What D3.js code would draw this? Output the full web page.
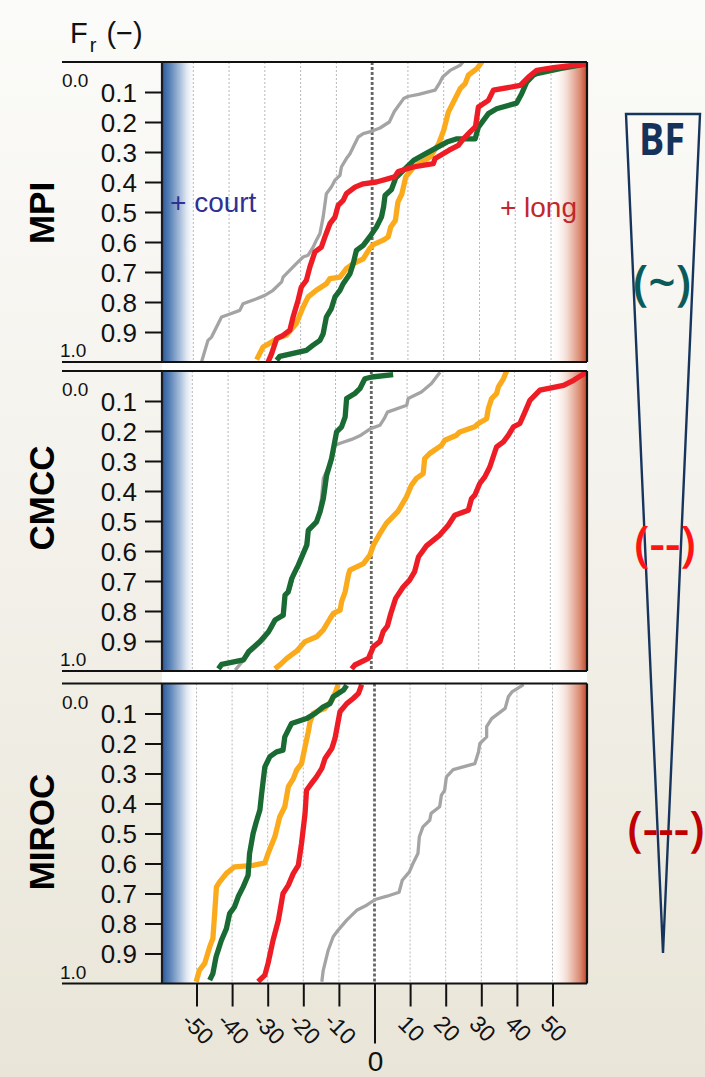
<!DOCTYPE html>
<html>
<head>
<meta charset="utf-8">
<script src="https://cdn.jsdelivr.net/npm/d3@7"></script>
<style>
  html, body { margin: 0; padding: 0; background: #f4f2ec; }
  svg { display: block; }
</style>
</head>
<body>
<svg id="chart" width="705" height="1077"></svg>
<script>
// ---- data -------------------------------------------------------------
const models = ["MPI", "CMCC", "MIROC"];
const xTicks = [-50, -40, -30, -20, -10, 0, 10, 20, 30, 40, 50];
const yTicks = [0.1, 0.2, 0.3, 0.4, 0.5, 0.6, 0.7, 0.8, 0.9];
const seriesNames = ["gray", "orange", "green", "red"];

// each curve: [change (%), F_r]
const mpiGray = [[-47.7,1.0],[-45.9,0.928],[-44.9,0.917],[-43.5,0.883],[-42.1,0.85],[-40.7,0.844],[-37,0.828],[-36.1,0.806],[-32.3,0.789],[-30,0.778],[-27.7,0.761],[-25.3,0.733],[-24.9,0.717],[-21.2,0.672],[-19.3,0.65],[-17.9,0.644],[-16.5,0.617],[-15.6,0.594],[-14.6,0.572],[-13.7,0.517],[-12.8,0.439],[-11.4,0.417],[-10.4,0.394],[-9.0,0.378],[-8.6,0.35],[-7.2,0.322],[-6.2,0.306],[-4.8,0.272],[-3.9,0.25],[-2.5,0.239],[-0.2,0.231],[2.2,0.22],[4.8,0.2],[6.2,0.165],[8.8,0.122],[10,0.115],[13,0.108],[17.6,0.094],[19,0.067],[19.7,0.05],[21.8,0.028],[24.6,0.011],[25.4,0]];
const mpiOrange = [[-32.3,0.992],[-30.5,0.95],[-28.6,0.937],[-25.8,0.917],[-24,0.911],[-21.2,0.872],[-19.3,0.817],[-17.9,0.783],[-15.6,0.761],[-12.8,0.739],[-11.8,0.722],[-9,0.717],[-7.2,0.689],[-5.3,0.672],[-2.5,0.656],[-0.7,0.622],[0.3,0.609],[3.1,0.594],[4.5,0.583],[5.2,0.55],[6.5,0.528],[7.2,0.467],[8.3,0.44],[9.4,0.383],[11.6,0.35],[16.2,0.317],[18.6,0.272],[20,0.228],[21.3,0.167],[24.6,0.089],[26,0.072],[26.9,0.044],[29.3,0.022],[30.7,0.0]];
const mpiGreen = [[-26.7,0.994],[-25.8,0.981],[-18.4,0.961],[-16.5,0.944],[-14.6,0.928],[-13.7,0.906],[-12.8,0.85],[-11.4,0.822],[-10.4,0.783],[-9,0.761],[-8.1,0.739],[-6.2,0.706],[-5.3,0.672],[-4.4,0.628],[-2.5,0.611],[-0.7,0.583],[1.2,0.55],[2.6,0.517],[3.2,0.483],[3.6,0.445],[5.4,0.425],[6.6,0.386],[9,0.358],[11.6,0.328],[15.5,0.302],[20.9,0.267],[23.7,0.256],[28.8,0.256],[29.7,0.217],[32.5,0.172],[34.8,0.156],[40.4,0.137],[41.8,0.106],[43.2,0.067],[45.1,0.044],[46,0.039],[52.5,0.022],[60,0.006]];
const mpiRed = [[-29.1,1.0],[-28.1,0.972],[-26.7,0.922],[-24.9,0.911],[-23,0.894],[-22.1,0.85],[-20.7,0.794],[-19.8,0.75],[-18.4,0.728],[-17.4,0.683],[-16,0.633],[-14.2,0.617],[-13.2,0.583],[-11.8,0.539],[-10.4,0.517],[-9.5,0.478],[-8.1,0.461],[-7.2,0.439],[-4.8,0.417],[-2.5,0.406],[1.2,0.4],[6.3,0.383],[7.3,0.365],[11.5,0.35],[17.1,0.339],[17.6,0.322],[21.5,0.294],[24.1,0.278],[25.5,0.256],[27.4,0.233],[28.9,0.215],[29.7,0.15],[32.5,0.128],[33.9,0.094],[41.4,0.078],[42.3,0.067],[43.7,0.05],[46,0.028],[50.7,0.019],[60,0.006]];

const cmccGray = [[-38,0.997],[-35.3,0.958],[-33.9,0.938],[-30.1,0.897],[-27.8,0.858],[-26.4,0.825],[-24.6,0.808],[-24.1,0.747],[-22.7,0.725],[-21.8,0.686],[-20.4,0.647],[-19.4,0.614],[-18.2,0.575],[-17.6,0.525],[-15.5,0.503],[-14.5,0.469],[-13.9,0.425],[-13.4,0.358],[-11.1,0.297],[-10.1,0.247],[-8.3,0.239],[-5.5,0.228],[-3.2,0.216],[-0.2,0.192],[2.4,0.181],[3.6,0.159],[4.5,0.137],[9.9,0.114],[10.3,0.092],[14,0.07],[16.8,0.042],[19.2,0.004]];
const cmccOrange = [[-26.9,0.993],[-25,0.974],[-23.6,0.958],[-20.8,0.933],[-18.5,0.902],[-15.3,0.886],[-13.4,0.863],[-11.5,0.825],[-10.6,0.808],[-8.7,0.797],[-8.3,0.769],[-7.3,0.736],[-6.4,0.68],[-6,0.664],[-2.2,0.642],[-0.4,0.614],[0.6,0.58],[2.4,0.542],[4.2,0.508],[7.5,0.467],[9.8,0.42],[11.2,0.381],[12.6,0.358],[14.5,0.342],[14.9,0.292],[16.3,0.275],[19.6,0.248],[20.5,0.231],[23.8,0.214],[24.7,0.203],[28.9,0.186],[29.9,0.175],[32.2,0.159],[32.7,0.125],[33.6,0.092],[35,0.075],[35.5,0.053],[36.9,0.026],[37.8,0.0]];
const cmccGreen = [[-42.7,0.993],[-41.8,0.978],[-35.7,0.963],[-34.3,0.936],[-31.1,0.902],[-28.7,0.869],[-26.9,0.83],[-24.6,0.814],[-24.1,0.747],[-23.2,0.736],[-22.2,0.691],[-21.3,0.669],[-20.4,0.647],[-18,0.58],[-17.6,0.531],[-15.3,0.503],[-14.3,0.469],[-13.4,0.425],[-13,0.392],[-12.5,0.348],[-11.1,0.292],[-9.7,0.203],[-8.3,0.186],[-7.3,0.153],[-6.9,0.092],[-4.6,0.075],[-3.2,0.059],[-1.8,0.026],[0.1,0.02],[6.1,0.012]];
const cmccRed = [[-5.5,0.993],[-4.6,0.98],[-0.8,0.958],[0.6,0.919],[2.4,0.902],[3.3,0.869],[4.5,0.85],[5.4,0.81],[6.8,0.758],[8.9,0.72],[10.7,0.697],[12.1,0.669],[13.2,0.619],[15.4,0.583],[19.1,0.547],[21.5,0.514],[23.3,0.481],[27.1,0.464],[28,0.425],[28.9,0.414],[30.3,0.375],[31.7,0.353],[33.1,0.32],[34.5,0.27],[35,0.253],[36.9,0.236],[38.3,0.214],[39.7,0.186],[41.5,0.175],[42.9,0.137],[44.3,0.098],[47.1,0.064],[49.9,0.057],[53.7,0.048],[56.5,0.031],[60,0.005]];

const mirocGray = [[-14.8,0.994],[-14.4,0.956],[-13,0.889],[-11.6,0.844],[-10.2,0.822],[-7.8,0.789],[-5,0.756],[-2.2,0.739],[0.2,0.72],[3.5,0.709],[6.9,0.696],[7.8,0.656],[9.8,0.628],[10.8,0.6],[12.2,0.567],[12.6,0.511],[13.6,0.478],[15.5,0.456],[15.9,0.433],[18.3,0.411],[18.8,0.372],[19.7,0.356],[20.2,0.311],[22.1,0.287],[28.2,0.267],[29.2,0.228],[29.6,0.2],[31.5,0.178],[31.5,0.144],[32.9,0.117],[36.7,0.083],[37.6,0.044],[38.6,0.028],[41.9,0.004]];
const mirocOrange = [[-50.1,0.994],[-49.2,0.956],[-47.7,0.933],[-46.3,0.878],[-45.4,0.85],[-44.9,0.767],[-44.4,0.678],[-43.5,0.661],[-41.6,0.633],[-39.3,0.611],[-34.1,0.606],[-30.8,0.598],[-29.9,0.567],[-28,0.511],[-26.6,0.444],[-25.2,0.411],[-24.2,0.344],[-22.8,0.317],[-21.9,0.289],[-20.5,0.267],[-19.5,0.211],[-18.6,0.161],[-18.1,0.128],[-17.2,0.1],[-15.3,0.089],[-13.9,0.083],[-12,0.056],[-11.1,0.033],[-10.2,0.004]];
const mirocGreen = [[-46.3,0.989],[-45.4,0.967],[-44.5,0.911],[-43,0.856],[-41.6,0.817],[-40.7,0.767],[-39.3,0.744],[-38.3,0.711],[-36.9,0.678],[-35.5,0.639],[-35.1,0.567],[-34.1,0.5],[-33.2,0.461],[-32.2,0.422],[-31.7,0.367],[-30.8,0.278],[-29.4,0.244],[-27.5,0.228],[-25.7,0.222],[-25.2,0.178],[-23.3,0.133],[-19.1,0.117],[-16.7,0.1],[-14.4,0.078],[-12.5,0.067],[-11.6,0.044],[-8.7,0.022],[-7.8,0.006]];
const mirocRed = [[-32.7,0.994],[-30.8,0.972],[-29.9,0.933],[-28.5,0.856],[-27,0.789],[-25.7,0.7],[-24.2,0.672],[-22.8,0.633],[-21.4,0.606],[-20.5,0.533],[-19.5,0.433],[-19.1,0.356],[-17.7,0.333],[-16.3,0.311],[-14.8,0.283],[-13.9,0.25],[-12,0.217],[-11.1,0.183],[-9.7,0.094],[-7.8,0.067],[-6,0.05],[-4.5,0.033],[-3.6,0.004]];

const panelSeries = [
  [mpiGray, mpiOrange, mpiGreen, mpiRed],
  [cmccGray, cmccOrange, cmccGreen, cmccRed],
  [mirocGray, mirocOrange, mirocGreen, mirocRed]
];

// ---- styles -----------------------------------------------------------
const seriesColor = { gray: "#a4a4a4", orange: "#fbaa1b", green: "#196b33", red: "#ee1d25" };
const seriesWidth = { gray: 3.3, orange: 5.3, green: 5.3, red: 5.3 };
const FONT = "'Liberation Sans', Arial, Helvetica, sans-serif";

// ---- layout -----------------------------------------------------------
const W = 705, H = 1077;
const plotL = 162, plotR = 587, lineL = 62;
const panelTop = [62, 371, 683.5];
const panelH = 300;
const xRanges = [[193.3, 551], [192.3, 550.3], [196.5, 552.5]]; // pixel spots of -50 and +50
const labelY = [213, 498, 832];

const svg = d3.select("#chart");
const defs = svg.append("defs");

function grad(id, x1, x2, stops) {
  const g = defs.append("linearGradient").attr("id", id)
    .attr("gradientUnits", "userSpaceOnUse")
    .attr("x1", x1).attr("x2", x2).attr("y1", 0).attr("y2", 0);
  stops.forEach(s => g.append("stop").attr("offset", s[0]).attr("stop-color", s[1]).attr("stop-opacity", s[2]));
}

// page background
const bg = defs.append("linearGradient").attr("id", "bg").attr("x1", 0).attr("x2", 0).attr("y1", 0).attr("y2", 1);
[[0, "#fbfbf9"], [0.45, "#f4f2ec"], [1, "#e9e5d8"]].forEach(s => bg.append("stop").attr("offset", s[0]).attr("stop-color", s[1]));
svg.append("rect").attr("width", W).attr("height", H).attr("fill", "url(#bg)");

grad("gBlue", plotL, plotL + 34, [[0, "#2a5a9a", 1], [0.25, "#5f86ba", 1], [0.6, "#bccde3", 1], [1, "#ffffff", 0]]);
grad("gRed", plotR - 36, plotR, [[0, "#ffffff", 0], [0.45, "#f3d9d0", 1], [0.8, "#db8c74", 1], [1, "#c2482a", 1]]);

// white plotting column
svg.append("rect")
  .attr("x", plotL).attr("y", panelTop[0])
  .attr("width", plotR - plotL).attr("height", panelTop[2] + panelH - panelTop[0])
  .attr("fill", "#ffffff");

const line = (x, y) => d3.line().x(d => x(d[0])).y(d => y(d[1]));
let xBottom = null;

models.forEach((name, i) => {
  const top = panelTop[i], bottom = top + panelH;
  const x = d3.scaleLinear().domain([-50, 50]).range(xRanges[i]);
  const y = d3.scaleLinear().domain([0, 1]).range([top, bottom]);
  if (i === models.length - 1) xBottom = x;
  const g = svg.append("g");

  // edge shading
  g.append("rect").attr("x", plotL).attr("y", top).attr("width", 34).attr("height", panelH).attr("fill", "url(#gBlue)");
  g.append("rect").attr("x", plotR - 36).attr("y", top).attr("width", 36).attr("height", panelH).attr("fill", "url(#gRed)");

  // vertical grid
  g.selectAll("line.grid").data(xTicks.filter(d => d !== 0)).join("line")
    .attr("class", "grid")
    .attr("x1", d => x(d)).attr("x2", d => x(d))
    .attr("y1", top).attr("y2", bottom)
    .attr("stroke", "#b8b8b8").attr("stroke-width", 1).attr("stroke-dasharray", "2,2");
  g.append("line")
    .attr("x1", x(0)).attr("x2", x(0)).attr("y1", top).attr("y2", bottom)
    .attr("stroke", "#666").attr("stroke-width", 2.8).attr("stroke-dasharray", "3,2");

  // curves
  defs.append("clipPath").attr("id", "clip" + i).append("rect")
    .attr("x", plotL).attr("y", top).attr("width", plotR - plotL).attr("height", panelH);
  const lg = g.append("g").attr("clip-path", `url(#clip${i})`);
  seriesNames.forEach((s, k) => {
    lg.append("path")
      .datum(panelSeries[i][k])
      .attr("d", line(x, y))
      .attr("fill", "none")
      .attr("stroke", seriesColor[s])
      .attr("stroke-width", seriesWidth[s])
      .attr("stroke-linejoin", "round")
      .attr("stroke-linecap", "butt");
  });

  // frame
  g.append("line").attr("x1", lineL).attr("x2", plotR).attr("y1", top).attr("y2", top).attr("stroke", "#111").attr("stroke-width", 2);
  g.append("line").attr("x1", lineL).attr("x2", plotR).attr("y1", bottom).attr("y2", bottom).attr("stroke", "#111").attr("stroke-width", 2);
  g.append("line").attr("x1", plotL).attr("x2", plotL).attr("y1", top).attr("y2", bottom).attr("stroke", "#1a1a22").attr("stroke-width", 2.2);
  g.append("line").attr("x1", plotR).attr("x2", plotR).attr("y1", top).attr("y2", bottom).attr("stroke", "#111").attr("stroke-width", 2.2);

  // y axis
  const ay = g.append("g").attr("transform", `translate(${plotL},0)`)
    .call(d3.axisLeft(y).tickValues(yTicks).tickSize(17).tickPadding(8).tickFormat(d3.format(".1f")));
  ay.select(".domain").remove();
  ay.attr("font-family", FONT).attr("font-size", 26);
  ay.selectAll(".tick line").attr("stroke", "#111").attr("stroke-width", 2);
  ay.selectAll(".tick text").attr("fill", "#111").attr("dy", "0.36em");

  g.append("text").attr("x", 62).attr("y", top + 25).attr("font-family", FONT).attr("font-size", 19).attr("fill", "#111").text("0.0");
  g.append("text").attr("x", 60).attr("y", bottom - 5).attr("font-family", FONT).attr("font-size", 19).attr("fill", "#111").text("1.0");

  // model name
  svg.append("text")
    .attr("transform", `translate(54,${labelY[i]}) rotate(-90)`)
    .attr("text-anchor", "middle")
    .attr("font-family", FONT).attr("font-weight", "bold").attr("font-size", 35)
    .attr("fill", "#000").text(name);

  if (i === 0) {
    g.append("text").attr("x", 170).attr("y", 212).attr("font-family", FONT).attr("font-size", 28)
      .attr("fill", "#2e3192").text("+ court");
    g.append("text").attr("x", 577).attr("y", 217).attr("text-anchor", "end").attr("font-family", FONT).attr("font-size", 28)
      .attr("fill", "#c1272d").text("+ long");
  }
});

// bottom axis
const axBottom = panelTop[2] + panelH;
const ax = svg.append("g").attr("transform", `translate(0,${axBottom})`)
  .call(d3.axisBottom(xBottom).tickValues(xTicks).tickSize(23).tickFormat(d => d === 0 ? "" : String(d)));
ax.select(".domain").remove();
ax.attr("font-family", FONT).attr("font-size", 23);
ax.selectAll(".tick line").attr("stroke", "#111").attr("stroke-width", 2).attr("y2", d => d === 0 ? 60 : 23);
ax.selectAll(".tick text")
  .attr("fill", "#111")
  .attr("y", 0).attr("dy", "0.35em")
  .attr("text-anchor", "middle")
  .attr("transform", "translate(1,45) rotate(45)");
svg.append("text").attr("x", xBottom(0) + 1).attr("y", 1071).attr("text-anchor", "middle")
  .attr("font-family", FONT).attr("font-size", 28).attr("fill", "#111").text("0");

// title
const title = svg.append("text").attr("x", 70).attr("y", 43).attr("font-family", FONT).attr("font-size", 29).attr("fill", "#111");
title.append("tspan").text("F");
title.append("tspan").attr("dx", 2).attr("dy", 9).attr("font-size", 20).text("r");
title.append("tspan").attr("dx", 10).attr("dy", -9).text("(\u2212)");

// BF wedge
const wedge = [[626, 114], [700, 114], [663, 953]];
svg.append("path")
  .attr("d", d3.line()(wedge) + "Z")
  .attr("fill", "none").attr("stroke", "#17355c").attr("stroke-width", 2.4).attr("stroke-linejoin", "miter");
const BFONT = "'Open Sans', Lato, sans-serif";
svg.append("text").attr("x", 662).attr("y", 155).attr("text-anchor", "middle")
  .attr("font-family", BFONT).attr("font-weight", 700).attr("font-size", 45)
  .attr("textLength", 46).attr("lengthAdjust", "spacingAndGlyphs")
  .attr("fill", "#15325a").text("BF");
svg.append("text").attr("x", 662).attr("y", 300).attr("text-anchor", "middle")
  .attr("font-family", BFONT).attr("font-weight", 600).attr("font-size", 48)
  .attr("fill", "#0b5a5a").text("(~)");
svg.append("text").attr("x", 665).attr("y", 561).attr("text-anchor", "middle")
  .attr("font-family", BFONT).attr("font-weight", 600).attr("font-size", 48)
  .attr("fill", "#ff1414").text("(--)");
svg.append("text").attr("x", 666).attr("y", 846).attr("text-anchor", "middle")
  .attr("font-family", BFONT).attr("font-weight", 600).attr("font-size", 48)
  .attr("fill", "#c00000").text("(---)");
</script>
</body>
</html>
